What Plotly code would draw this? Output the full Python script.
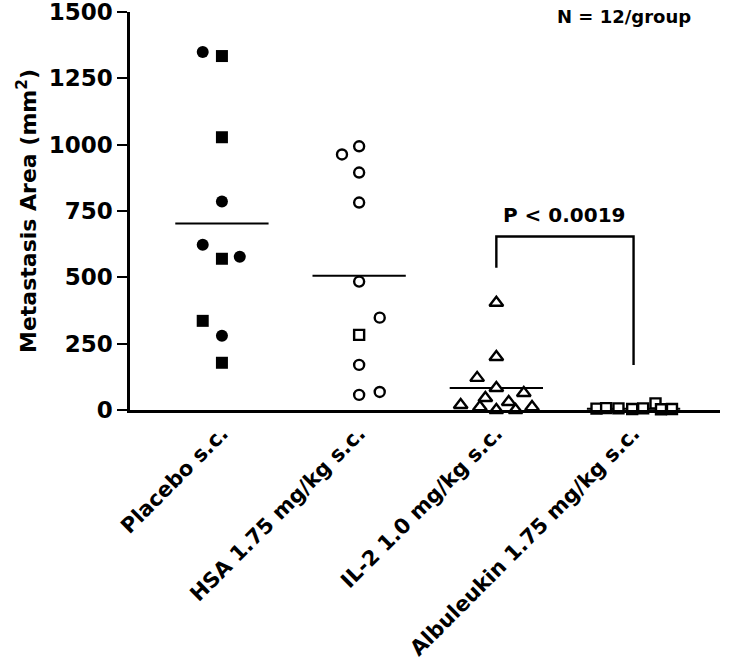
import plotly.graph_objects as go

# ---- data ----
categories = ["Placebo s.c.", "HSA 1.75 mg/kg s.c.", "IL-2 1.0 mg/kg s.c.", "Albuleukin 1.75 mg/kg s.c."]

placebo_values = [1349, 1334, 1028, 786, 623, 570, 578, 336, 280, 178]
placebo_jitter = [-0.14, 0.0, 0.0, 0.0, -0.14, 0.0, 0.13, -0.14, 0.0, 0.0]
placebo_symbols = ["circle", "square", "square", "circle", "circle", "square", "circle", "square", "circle", "square"]

hsa_values = [963, 994, 895, 782, 484, 348, 283, 170, 57, 68]
hsa_jitter = [-0.125, 0.0, 0.0, 0.0, 0.0, 0.15, 0.0, 0.0, 0.0, 0.15]
hsa_symbols = ["circle", "circle", "circle", "circle", "circle", "circle", "square", "circle", "circle", "circle"]

il2_values = [404, 200, 121, 83, 64, 19, 45, 30, 11, 0, 0, 11]
il2_jitter = [0.0, 0.0, -0.14, 0.0, 0.2, -0.26, -0.08, 0.09, -0.12, 0.0, 0.14, 0.26]

albu_values = [5, 7, 6, 4, 25, 3, 6, 4]
albu_jitter = [-0.27, -0.2, -0.11, -0.01, 0.16, 0.2, 0.07, 0.28]

group_means = [703, 506, 83, 5]
mean_halfwidth = 0.34

bracket_left_bottom = 536
bracket_right_bottom = 170
bracket_top = 654
p_text = "P < 0.0019"
n_text = "N = 12/group"

y_ticks = [0, 250, 500, 750, 1000, 1250, 1500]

FONT = "DejaVu Sans"

fig = go.Figure()

fig.add_trace(go.Scatter(
    x=[0 + j for j in placebo_jitter], y=placebo_values, mode="markers",
    marker=dict(symbol=placebo_symbols, size=12, color="black", line=dict(width=0)),
    cliponaxis=False, showlegend=False))

fig.add_trace(go.Scatter(
    x=[1 + j for j in hsa_jitter], y=hsa_values, mode="markers",
    marker=dict(symbol=hsa_symbols, size=10, color="white", line=dict(width=2.4, color="black")),
    cliponaxis=False, showlegend=False))

fig.add_trace(go.Scatter(
    x=[2 + j for j in il2_jitter], y=il2_values, mode="markers",
    marker=dict(symbol="triangle-up", size=12, color="white", line=dict(width=2.4, color="black")),
    cliponaxis=False, showlegend=False))

fig.add_trace(go.Scatter(
    x=[3 + j for j in albu_jitter], y=albu_values, mode="markers",
    marker=dict(symbol="square", size=10, color="white", line=dict(width=2.4, color="black")),
    cliponaxis=False, showlegend=False))

# mean lines
for i, m in enumerate(group_means):
    fig.add_shape(type="line", x0=i - mean_halfwidth, x1=i + mean_halfwidth, y0=m, y1=m,
                  xref="x", yref="y", line=dict(color="black", width=2), layer="below")

# significance bracket
fig.add_shape(type="path",
              path=f"M 2,{bracket_left_bottom} L 2,{bracket_top} L 3,{bracket_top} L 3,{bracket_right_bottom}",
              xref="x", yref="y", line=dict(color="black", width=2.4))
fig.add_annotation(x=2.5, y=bracket_top, xref="x", yref="y", text=p_text, showarrow=False,
                   yanchor="bottom", yshift=7,
                   font=dict(family=FONT, size=20, color="black", weight="bold"))

fig.add_annotation(x=1.0, y=1.0, xref="paper", yref="paper", text=n_text, showarrow=False,
                   xanchor="right", yanchor="top", xshift=-27, yshift=8,
                   font=dict(family=FONT, size=18, color="black", weight="bold"))

fig.update_layout(
    width=734, height=663,
    margin=dict(l=130, r=14, t=12, b=253),
    plot_bgcolor="white", paper_bgcolor="white",
    font=dict(family=FONT, color="black", size=18, weight="bold"),
    xaxis=dict(range=[-0.67, 3.63], tickmode="array", tickvals=[0, 1, 2, 3], ticktext=categories,
               tickangle=-45, showline=True, linecolor="black", linewidth=2.5, ticks="",
               showgrid=False, zeroline=False, automargin=False, ticklabeloverflow="allow",
               tickfont=dict(family=FONT, size=21, weight="bold", color="black")),
    yaxis=dict(range=[0, 1500], tickmode="array", tickvals=y_ticks, ticks="outside", ticklen=10,
               tickwidth=2, tickcolor="black", showline=True, linecolor="black", linewidth=2.5,
               showgrid=False, zeroline=False, automargin=False, ticklabeloverflow="allow",
               tickfont=dict(family=FONT, size=23, weight="bold", color="black"),
               title=dict(text="Metastasis Area (mm<sup>2</sup>)", standoff=6,
                          font=dict(family=FONT, size=22, weight="bold", color="black"))),
)

# remove the default page margin so the figure sits at the window's top-left corner
fig.write_html("out.html", config={"displayModeBar": False},
               post_script="document.body.style.margin='0';document.body.style.overflow='hidden';")
